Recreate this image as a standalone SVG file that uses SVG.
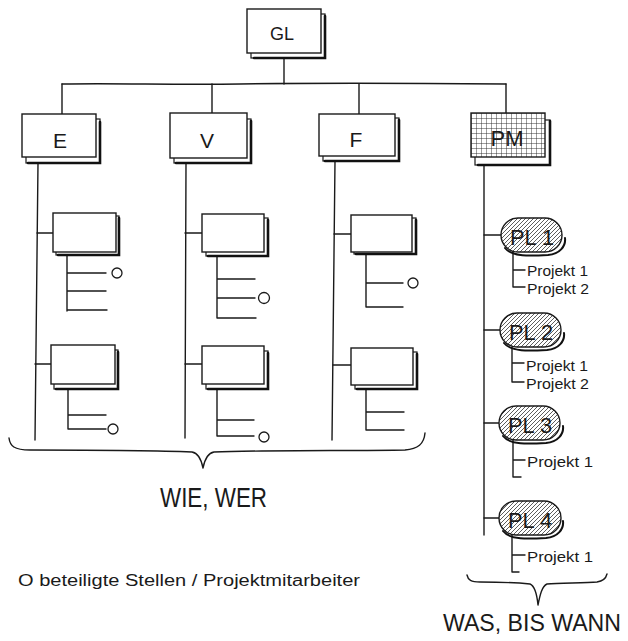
<svg xmlns="http://www.w3.org/2000/svg" width="628" height="641" viewBox="0 0 628 641">
<defs>
  <pattern id="hatch" patternUnits="userSpaceOnUse" width="4" height="4">
    <rect width="4" height="4" fill="#fff"/>
    <path d="M-1,1 L1,-1 M0,4 L4,0 M3,5 L5,3" stroke="#333" stroke-width="0.8"/>
  </pattern>
  <pattern id="grid" patternUnits="userSpaceOnUse" width="5" height="5" x="471" y="113">
    <rect width="5" height="5" fill="#fff"/>
    <path d="M0,0 H5 M0,0 V5" stroke="#222" stroke-width="0.9"/>
  </pattern>
</defs>
<style>
  .ln{fill:none;stroke:#1a1a1a;stroke-width:1.4;stroke-linecap:round;stroke-linejoin:round}
  .box{fill:#fff;stroke:#1a1a1a;stroke-width:1.4}
  .sh{fill:#fff;stroke:#1a1a1a;stroke-width:1.2}
  .shb{fill:none;stroke:#111;stroke-width:2.6;stroke-linecap:round}
  .pl{fill:url(#hatch);stroke:#1a1a1a;stroke-width:1.4}
  .plsh{fill:none;stroke:#111;stroke-width:2;stroke-linecap:round}
  .circ{fill:#fff;stroke:#1a1a1a;stroke-width:1.3}
  .t{font-family:"Liberation Sans","DejaVu Sans",sans-serif;fill:#1a1a1a}
  .big{font-size:21px;text-anchor:middle}
  .proj{font-size:15px}
  .pltxt{font-size:22px;text-anchor:middle}
  .cap{font-size:27px}
</style>

<g id="connectors">
  <path class="ln" d="M284,58 V84"/>
  <path class="ln" d="M62,84 C120,83 170,85 240,84 S380,83 506,84"/>
  <path class="ln" d="M62,84 V114 M212,84 V113 M359,84 V114 M506,84 V113"/>
  <path class="ln" d="M38,163 L35,440"/>
  <path class="ln" d="M37,233 H53 M35,364 H51"/>
  <path class="ln" d="M67,255 V311 M67,273 H106 M67,291 H106 M67,310 H107"/>
  <path class="ln" d="M68,389 V429 M68,415 H106 M68,429 H106"/>
  <path class="ln" d="M186,163 L185,438"/>
  <path class="ln" d="M185,233 H202 M185,364 H202"/>
  <path class="ln" d="M217,256 V318 M217,279 H255 M217,298 H255 M217,318 H256"/>
  <path class="ln" d="M217,389 V436 M217,420 H254 M217,436 H254"/>
  <path class="ln" d="M335,161 L332,440"/>
  <path class="ln" d="M334,234 H351 M333,365 H351"/>
  <path class="ln" d="M366,254 V307 M366,283 H403 M366,307 H403"/>
  <path class="ln" d="M366,389 V430 M366,412 H404 M366,430 H404"/>
  <path class="ln" d="M484,165 V535"/>
  <path class="ln" d="M484,235 H502 M484,330 H500 M484,423 H500 M484,518 H500"/>
  <path class="ln" d="M513,252 V287 H525 M513,270 H525"/>
  <path class="ln" d="M512,347 V382 H524 M512,363 H524"/>
  <path class="ln" d="M513,440 V477 H521 M513,460 H525"/>
  <path class="ln" d="M512,535 V572 H519 M512,555 H525"/>
</g>

<g id="circles">
  <circle class="circ" cx="117" cy="273" r="5"/>
  <circle class="circ" cx="113" cy="429" r="5"/>
  <circle class="circ" cx="264" cy="298" r="5.5"/>
  <circle class="circ" cx="264" cy="437" r="5"/>
  <circle class="circ" cx="413" cy="283" r="5"/>
</g>

<g id="GL">
  <rect class="sh" x="251" y="14" width="74" height="44"/>
  <path class="shb" d="M254,58 H325 V16"/>
  <rect class="box" x="247" y="9" width="74" height="44"/>
  <text class="t big" x="282" y="40" style="font-size:18px">GL</text>
</g>

<g id="E">
  <rect class="sh" x="26" y="119" width="74" height="44"/>
  <path class="shb" d="M28,163 H100 V122"/>
  <rect class="box" x="22" y="114" width="74" height="43"/>
  <text class="t big" x="60" y="148">E</text>
</g>
<g id="V">
  <rect class="sh" x="174" y="119" width="77" height="44"/>
  <path class="shb" d="M176,163 H251 V121"/>
  <rect class="box" x="170" y="113" width="77" height="45"/>
  <text class="t big" x="207" y="148">V</text>
</g>
<g id="F">
  <rect class="sh" x="323" y="118" width="76" height="43"/>
  <path class="shb" d="M325,161 H399 V120"/>
  <rect class="box" x="319" y="114" width="76" height="42"/>
  <text class="t big" x="356" y="147">F</text>
</g>
<g id="PM">
  <rect class="sh" x="475" y="120" width="75" height="45"/>
  <path class="shb" d="M478,165 H550 V121"/>
  <rect class="box" x="471" y="113" width="74" height="44" style="fill:url(#grid)"/>
  <text class="t big" x="507" y="146" style="font-size:22px">PM</text>
</g>

<g id="E1">
  <rect class="sh" x="56" y="216" width="63" height="39"/>
  <path class="shb" d="M58,255 H119 V218"/>
  <rect class="box" x="53" y="213" width="63" height="39"/>
</g>
<g id="E2">
  <rect class="sh" x="54" y="350" width="64" height="39"/>
  <path class="shb" d="M56,389 H118 V352"/>
  <rect class="box" x="51" y="345" width="64" height="39"/>
</g>
<g id="V1">
  <rect class="sh" x="206" y="218" width="62" height="38"/>
  <path class="shb" d="M208,256 H268 V220"/>
  <rect class="box" x="202" y="214" width="62" height="38"/>
</g>
<g id="V2">
  <rect class="sh" x="206" y="351" width="62" height="38"/>
  <path class="shb" d="M208,389 H268 V353"/>
  <rect class="box" x="202" y="346" width="62" height="38"/>
</g>
<g id="F1">
  <rect class="sh" x="354" y="218" width="62" height="36"/>
  <path class="shb" d="M356,254 H416 V220"/>
  <rect class="box" x="351" y="215" width="61" height="37"/>
</g>
<g id="F2">
  <rect class="sh" x="355" y="352" width="62" height="37"/>
  <path class="shb" d="M357,389 H417 V354"/>
  <rect class="box" x="351" y="348" width="62" height="37"/>
</g>

<g id="PL1">
  <path class="plsh" d="M505,248 C512,257 530,256 548,255 C560,254 566,246 565,238"/>
  <rect class="pl" x="501" y="218" width="61" height="34" rx="17"/>
  <text class="t pltxt" x="532" y="245" textLength="44" lengthAdjust="spacingAndGlyphs">PL 1</text>
  <text class="t proj" x="527" y="276" textLength="61" lengthAdjust="spacingAndGlyphs">Projekt 1</text>
  <text class="t proj" x="527" y="294" textLength="62" lengthAdjust="spacingAndGlyphs">Projekt 2</text>
</g>
<g id="PL2">
  <path class="plsh" d="M504,343 C511,352 529,351 547,350 C559,349 565,341 564,333"/>
  <rect class="pl" x="500" y="313" width="61" height="34" rx="17"/>
  <text class="t pltxt" x="531" y="340" textLength="44" lengthAdjust="spacingAndGlyphs">PL 2</text>
  <text class="t proj" x="526" y="371" textLength="62" lengthAdjust="spacingAndGlyphs">Projekt 1</text>
  <text class="t proj" x="526" y="389" textLength="63" lengthAdjust="spacingAndGlyphs">Projekt 2</text>
</g>
<g id="PL3">
  <path class="plsh" d="M503,436 C510,445 528,444 546,443 C558,442 564,434 563,426"/>
  <rect class="pl" x="499" y="406" width="61" height="34" rx="17"/>
  <text class="t pltxt" x="530" y="433" textLength="44" lengthAdjust="spacingAndGlyphs">PL 3</text>
  <text class="t proj" x="527" y="467" textLength="66" lengthAdjust="spacingAndGlyphs">Projekt 1</text>
</g>
<g id="PL4">
  <path class="plsh" d="M503,531 C510,540 528,539 546,538 C558,537 564,529 563,521"/>
  <rect class="pl" x="499" y="501" width="62" height="34" rx="17"/>
  <text class="t pltxt" x="530" y="528" textLength="44" lengthAdjust="spacingAndGlyphs">PL 4</text>
  <text class="t proj" x="527" y="562" textLength="66" lengthAdjust="spacingAndGlyphs">Projekt 1</text>
</g>

<g id="braces">
  <path class="ln" d="M9,438 C10,446 14,450 30,450 C100,450 170,451 192,452 C198,453 201,458 203,468 C205,458 208,453 214,452 C260,450 360,451 405,450 C418,449 424,444 425,433" stroke-width="1.8"/>
  <path class="ln" d="M467,575 C468,580 471,582 480,582 C500,582 520,583 530,584 C535,586 537,595 538,605 C540,595 542,586 547,584 C560,583 585,583 597,582 C604,581 606,578 607,574" stroke-width="1.8"/>
</g>

<g id="labels">
  <text class="t cap" x="160" y="507" textLength="107" lengthAdjust="spacingAndGlyphs">WIE, WER</text>
  <text class="t" x="443" y="631" style="font-size:24px" textLength="178" lengthAdjust="spacingAndGlyphs">WAS, BIS WANN</text>
  <text class="t" x="18" y="586" style="font-size:16px" textLength="342" lengthAdjust="spacingAndGlyphs">O beteiligte Stellen / Projektmitarbeiter</text>
</g>
</svg>
